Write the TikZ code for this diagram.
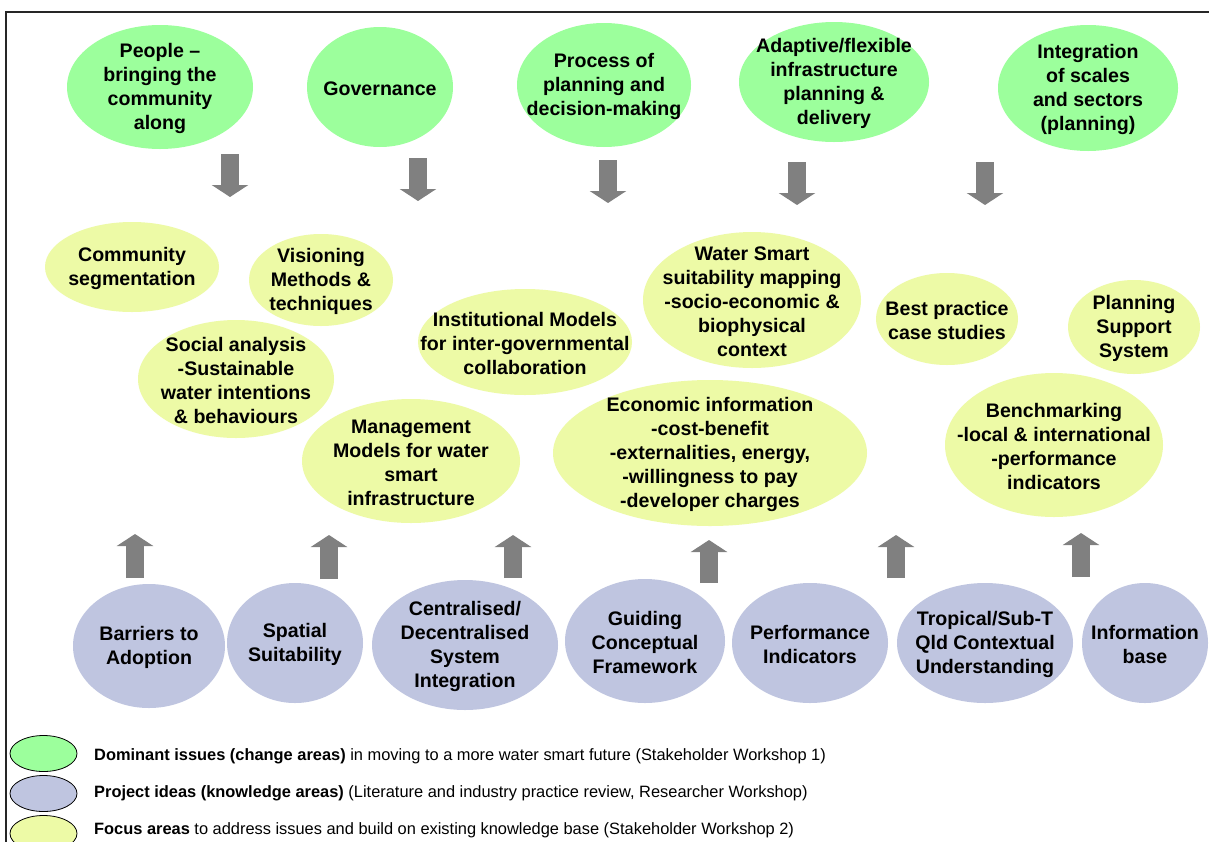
\documentclass[tikz,border=0pt]{standalone}
\usepackage{fontspec}
\setmainfont{Liberation Sans}
\usetikzlibrary{shapes.geometric,arrows.meta}
\definecolor{gfill}{HTML}{9CFF9C}
\definecolor{bfill}{HTML}{BFC5E0}
\definecolor{yfill}{HTML}{EDFAA6}
\definecolor{arrgrey}{HTML}{808080}
\tikzset{
  oval/.style={ellipse, inner sep=0pt},
  ovtext/.style={align=center, inner sep=0pt, yshift=-1.5pt, font=\fontsize{19.6}{24}\selectfont\bfseries},
  goval/.style={oval, fill=gfill},
  boval/.style={oval, fill=bfill},
  yoval/.style={oval, fill=yfill},
  legoval/.style={ellipse, draw=black, line width=0.8pt, minimum width=67pt, minimum height=36pt, inner sep=0pt},
  legtext/.style={anchor=west, font=\fontsize{16.4}{18}\selectfont, inner sep=0pt},
  blockarrow/.style={draw=arrgrey, line width=18pt, -{Triangle[width=36pt,length=12pt]}},
  frame/.style={line width=1.6pt, black!85}
}
% #1 style, #2 x, #3 y, #4 width, #5 height, #6 name, #7 text
\newcommand{\ov}[7]{\node[#1, minimum width=#4pt, minimum height=#5pt] (#6) at (#2,#3) {};
  \node[ovtext] (#6t) at (#6) {#7};}
\begin{document}
\begin{tikzpicture}[x=1pt,y=-1pt]
\useasboundingbox (0,0) rectangle (1209,841);
\fill[white] (0,0) rectangle (1209,841);
% frame
\draw[frame] (6,845) -- (6,12) -- (1212,12);

% top row (dominant issues)
\ov{goval}{160}{87}{186}{124}{g1}{People --\\bringing the\\community\\along}
\ov{goval}{380}{87}{146}{120}{g2}{Governance}
\ov{goval}{604}{85}{174}{124}{g3}{Process of\\planning and\\decision-making}
\ov{goval}{834}{82}{190}{120}{g4}{Adaptive/flexible\\infrastructure\\planning \&\\delivery}
\ov{goval}{1088}{88}{180}{126}{g5}{Integration\\of scales\\and sectors\\(planning)}

% down arrows
\coordinate (d1s) at (230,154); \coordinate (d1e) at (230,197);
\coordinate (d2s) at (418,158); \coordinate (d2e) at (418,201);
\coordinate (d3s) at (608,160); \coordinate (d3e) at (608,203);
\coordinate (d4s) at (797,162); \coordinate (d4e) at (797,205);
\coordinate (d5s) at (985,162); \coordinate (d5e) at (985,205);
\foreach \i in {1,...,5} {\draw[blockarrow] (d\i s) -- (d\i e);}

% focus areas
\ov{yoval}{132}{267}{174}{90}{y1}{Community\\segmentation}
\ov{yoval}{321}{280}{144}{92}{y2}{Visioning\\Methods \&\\techniques}
\ov{yoval}{236}{379}{196}{118}{y3}{Social analysis\\-Sustainable\\water intentions\\\& behaviours}
\ov{yoval}{525}{342}{214}{106}{y4}{Institutional Models\\for inter-governmental\\collaboration}
\ov{yoval}{411}{461}{218}{124}{y5}{Management\\Models for water\\smart\\infrastructure}
\ov{yoval}{752}{300}{218}{136}{y6}{Water Smart\\suitability mapping\\-socio-economic \&\\biophysical\\context}
\ov{yoval}{947}{319}{142}{92}{y7}{Best practice\\case studies}
\ov{yoval}{1134}{327}{132}{94}{y8}{Planning\\Support\\System}
\ov{yoval}{710}{453}{314}{146}{y9}{Economic information\\-cost-benefit\\-externalities, energy,\\-willingness to pay\\-developer charges}
\ov{yoval}{1054}{445}{218}{144}{y10}{Benchmarking\\-local \& international\\-performance\\indicators}

% up arrows
\coordinate (u1s) at (135,578); \coordinate (u1e) at (135,534);
\coordinate (u2s) at (329,579); \coordinate (u2e) at (329,535);
\coordinate (u3s) at (513,578); \coordinate (u3e) at (513,535);
\coordinate (u4s) at (709,583); \coordinate (u4e) at (709,540);
\coordinate (u5s) at (896,578); \coordinate (u5e) at (896,535);
\coordinate (u6s) at (1081,577); \coordinate (u6e) at (1081,533);
\foreach \i in {1,...,6} {\draw[blockarrow] (u\i s) -- (u\i e);}

% project ideas
\ov{boval}{149}{646}{152}{124}{b1}{Barriers to\\Adoption}
\ov{boval}{295}{643}{136}{120}{b2}{Spatial\\Suitability}
\ov{boval}{465}{645}{186}{130}{b3}{Centralised/\\Decentralised\\System\\Integration}
\ov{boval}{645}{641}{160}{124}{b4}{Guiding\\Conceptual\\Framework}
\ov{boval}{810}{643}{156}{120}{b5}{Performance\\Indicators}
\ov{boval}{985}{643}{176}{120}{b6}{Tropical/Sub-T\\Qld Contextual\\Understanding}
\ov{boval}{1145}{643}{126}{120}{b7}{Information\\base}

% legend
\node[legoval, fill=gfill] (lg) at (43.5,753.5) {};
\node[legoval, fill=bfill] (lb) at (43.5,793.5) {};
\node[legoval, fill=yfill] (ly) at (43.5,833.5) {};
\node[legtext] (tg) at (94,756) {\textbf{Dominant issues (change areas)} in moving to a more water smart future (Stakeholder Workshop 1)};
\node[legtext] (tb) at (94,793) {\textbf{Project ideas (knowledge areas)} (Literature and industry practice review, Researcher Workshop)};
\node[legtext] (ty) at (94,830) {\textbf{Focus areas} to address issues and build on existing knowledge base (Stakeholder Workshop 2)};
\end{tikzpicture}
\end{document}
